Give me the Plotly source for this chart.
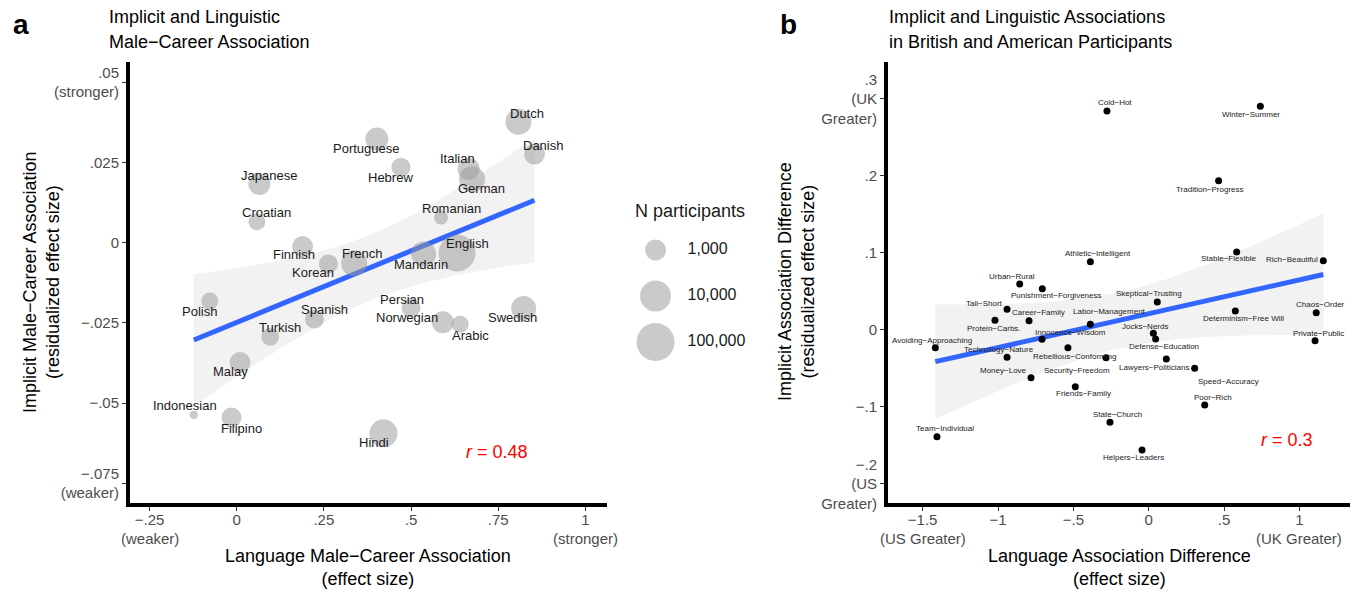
import numpy as np
import plotly.graph_objects as go

# ---------------- Panel a data ----------------
languages = ["Dutch", "Danish", "Portuguese", "Hebrew", "Italian", "German", "Japanese",
             "Croatian", "Romanian", "English", "Mandarin", "Finnish", "Korean", "French",
             "Polish", "Spanish", "Turkish", "Persian", "Norwegian", "Arabic", "Swedish",
             "Malay", "Indonesian", "Filipino", "Hindi"]
lang_x = [0.808, 0.854, 0.402, 0.471, 0.665, 0.675, 0.065, 0.058, 0.586, 0.632, 0.536,
          0.189, 0.263, 0.337, -0.077, 0.223, 0.096, 0.500, 0.591, 0.641, 0.823, 0.0095,
          -0.123, -0.015, 0.421]
lang_y = [0.0377, 0.0276, 0.0323, 0.0235, 0.0230, 0.0198, 0.0183, 0.0065, 0.0078, -0.0032,
          -0.0035, -0.0012, -0.0066, -0.0064, -0.0182, -0.0238, -0.0293, -0.0203, -0.0248,
          -0.0254, -0.0205, -0.0373, -0.0536, -0.0545, -0.0594]
lang_n = [2750, 1000, 1455, 731, 1202, 2750, 1202, 555, 400, 70000, 2200, 1000, 731, 2750,
          555, 731, 632, 731, 1202, 555, 2200, 1000, 290, 853, 4470]

legend_n = [1000, 10000, 100000]
legend_labels = ["1,000", "10,000", "100,000"]

a_xtick_vals = [-0.25, 0, 0.25, 0.5, 0.75, 1]
a_xtick_text = ["\u2212.25", "0", ".25", ".5", ".75", "1"]
a_xtick_sub = ["(weaker)", "", "", "", "", "(stronger)"]
a_ytick_vals = [0.05, 0.025, 0, -0.025, -0.05, -0.075]
a_ytick_text = [".05<br>(stronger)", ".025", "0", "\u2212.025", "\u2212.05", "\u2212.075<br>(weaker)"]

# ---------------- Panel b data ----------------
pairs = ["Cold\u2212Hot", "Winter\u2212Summer", "Tradition\u2212Progress", "Athletic\u2212Intelligent",
         "Stable\u2212Flexible", "Rich\u2212Beautiful", "Urban\u2212Rural", "Punishment\u2212Forgiveness",
         "Tall\u2212Short", "Skeptical\u2212Trusting", "Career\u2212Family", "Protein\u2212Carbs.",
         "Labor\u2212Management", "Chaos\u2212Order", "Determinism\u2212Free Will", "Jocks\u2212Nerds",
         "Defense\u2212Education", "Private\u2212Public", "Avoiding\u2212Approaching", "Innocence\u2212Wisdom",
         "Rebellious\u2212Conforming", "Technology\u2212Nature", "Security\u2212Freedom",
         "Lawyers\u2212Politicians", "Speed\u2212Accuracy", "Money\u2212Love", "Friends\u2212Family",
         "Poor\u2212Rich", "State\u2212Church", "Team\u2212Individual", "Helpers\u2212Leaders"]
pair_x = [-0.277, 0.741, 0.464, -0.387, 0.584, 1.159, -0.856, -0.706, -0.940, 0.057, -0.794,
          -1.020, -0.387, 1.112, 0.575, 0.031, 0.046, 1.104, -1.416, -0.708, -0.536, -0.940,
          -0.283, 0.117, 0.305, -0.781, -0.487, 0.372, -0.257, -1.405, -0.044]
pair_y = [0.2844, 0.2905, 0.1939, 0.0887, 0.1013, 0.0900, 0.0597, 0.0536, 0.0269, 0.0364,
          0.0121, 0.0126, 0.0074, 0.0225, 0.0247, -0.0043, -0.0117, -0.0139, -0.0230, -0.0121,
          -0.0230, -0.0355, -0.0360, -0.0377, -0.0497, -0.0619, -0.0736, -0.0974, -0.1199,
          -0.1386, -0.1558]

b_xtick_vals = [-1.5, -1, -0.5, 0, 0.5, 1]
b_xtick_text = ["\u22121.5", "\u22121", "\u2212.5", "0", ".5", "1"]
b_xtick_sub = ["(US Greater)", "", "", "", "", "(UK Greater)"]
b_ytick_vals = [0.3, 0.2, 0.1, 0, -0.1, -0.2]
b_ytick_text = [".3<br>(UK<br>Greater)", ".2", ".1", "0", "\u2212.1", "\u2212.2<br>(US<br>Greater)"]

# ---------------- styling / label placement (screen px offsets) ----------------
a_label_off = [(9, -8), (9, -9), (-10, 9), (-10, 10), (-11, -10), (9, 9), (10, -8), (10, -9),
               (10, -9), (10, -9), (-3, 11), (-9, 8), (-15, 9), (8, -10), (-10, 10), (10, -10),
               (10, -9), (-9, -8), (-36, -5), (10, 11), (-11, 9), (-10, 9), (-9, -9), (10, 11),
               (-9, 9)]
b_label_off = [(8, -8), (-9, 8), (-9, 9), (8, -8), (-8, 7), (-31, -1), (-8, -8), (14, 7),
               (-23, -6), (-8, -8), (9, -8), (-1, 8), (19, -13), (4, -8), (8, 8), (-8, -7),
               (8, 8), (3, -7), (-3, -7), (28, -7), (7, 9), (-8, -8), (-29, 13), (-12, 8),
               (34, 13), (-28, -7), (8, 7), (8, -7), (8, -8), (8, -8), (-9, 8)]

FONT = "Liberation Sans, Arial, Helvetica, sans-serif"
W, H = 1359, 589
TICK_COLOR = "#4d4d4d"


def size_px(n):
    lg = np.log10(np.asarray(n, dtype=float))
    return 6.2 + 19.9 * np.sqrt(np.clip(lg - 2.45, 0, None))


def lm_band(x, y, tq, npts=80):
    x = np.asarray(x, float)
    y = np.asarray(y, float)
    n = len(x)
    xb = x.mean()
    sxx = ((x - xb) ** 2).sum()
    b = ((x - xb) * (y - y.mean())).sum() / sxx
    a = y.mean() - b * xb
    s = np.sqrt(((y - (a + b * x)) ** 2).sum() / (n - 2))
    xs = np.linspace(x.min(), x.max(), npts)
    yh = a + b * xs
    se = s * np.sqrt(1.0 / n + (xs - xb) ** 2 / sxx)
    return xs, yh, yh - tq * se, yh + tq * se


fig = go.Figure()

# ---- panel a ----
xs, yh, lo, hi = lm_band(lang_x, lang_y, 2.0687)
fig.add_trace(go.Scatter(x=np.concatenate([xs, xs[::-1]]), y=np.concatenate([lo, hi[::-1]]),
                         fill="toself", fillcolor="#f2f2f2", line=dict(width=0), mode="lines",
                         hoverinfo="skip", showlegend=False, xaxis="x", yaxis="y"))
fig.add_trace(go.Scatter(x=xs, y=yh, mode="lines", line=dict(color="#3366FF", width=5),
                         showlegend=False, xaxis="x", yaxis="y"))
fig.add_trace(go.Scatter(x=lang_x, y=lang_y, mode="markers", text=languages,
                         marker=dict(size=size_px(lang_n), color="rgb(150,150,150)", opacity=0.5,
                                     line=dict(width=0)),
                         showlegend=False, xaxis="x", yaxis="y"))

# ---- panel b ----
xs2, yh2, lo2, hi2 = lm_band(pair_x, pair_y, 2.0452)
fig.add_trace(go.Scatter(x=np.concatenate([xs2, xs2[::-1]]), y=np.concatenate([lo2, hi2[::-1]]),
                         fill="toself", fillcolor="#f2f2f2", line=dict(width=0), mode="lines",
                         hoverinfo="skip", showlegend=False, xaxis="x2", yaxis="y2"))
fig.add_trace(go.Scatter(x=xs2, y=yh2, mode="lines", line=dict(color="#3366FF", width=5),
                         showlegend=False, xaxis="x2", yaxis="y2"))
fig.add_trace(go.Scatter(x=pair_x, y=pair_y, mode="markers", text=pairs,
                         marker=dict(size=7, color="black", line=dict(width=0)),
                         showlegend=False, xaxis="x2", yaxis="y2"))

# ---- size legend (own little axes) ----
fig.add_trace(go.Scatter(x=[0, 0, 0], y=legend_labels, mode="markers",
                         marker=dict(size=size_px(legend_n), color="rgb(150,150,150)", opacity=0.5,
                                     line=dict(width=0)),
                         showlegend=False, xaxis="x3", yaxis="y3", hoverinfo="skip"))
fig.add_trace(go.Scatter(x=[0.9, 0.9, 0.9], y=legend_labels, mode="text", text=legend_labels,
                         textposition="middle right",
                         textfont=dict(family=FONT, size=16, color="#1a1a1a"),
                         showlegend=False, xaxis="x3", yaxis="y3", hoverinfo="skip"))

ann = []
for name, x, y, (dx, dy) in zip(languages, lang_x, lang_y, a_label_off):
    ann.append(dict(x=x, y=y, xref="x", yref="y", text=name, showarrow=False,
                    xshift=dx, yshift=-dy, font=dict(family=FONT, size=13, color="#1a1a1a")))
for name, x, y, (dx, dy) in zip(pairs, pair_x, pair_y, b_label_off):
    ann.append(dict(x=x, y=y, xref="x2", yref="y2", text=name, showarrow=False,
                    xshift=dx, yshift=-dy, font=dict(family=FONT, size=8, color="#222222")))


def px_x(p):
    return p / W


def px_y(p):
    return 1 - p / H


# second line of the end x tick labels
for v, t in zip(a_xtick_vals, a_xtick_sub):
    if t:
        ann.append(dict(x=v, y=px_y(538), xref="x", yref="paper", text=t, showarrow=False,
                        xanchor="center", yanchor="middle",
                        font=dict(family=FONT, size=15, color=TICK_COLOR)))
for v, t in zip(b_xtick_vals, b_xtick_sub):
    if t:
        ann.append(dict(x=v, y=px_y(538), xref="x2", yref="paper", text=t, showarrow=False,
                        xanchor="center", yanchor="middle",
                        font=dict(family=FONT, size=15, color=TICK_COLOR)))

# titles and panel letters
ann += [
    dict(x=px_x(21), y=px_y(25), xref="paper", yref="paper", text="<b>a</b>", showarrow=False,
         xanchor="center", yanchor="middle", font=dict(family=FONT, size=28, color="black")),
    dict(x=px_x(788), y=px_y(25), xref="paper", yref="paper", text="<b>b</b>", showarrow=False,
         xanchor="center", yanchor="middle", font=dict(family=FONT, size=28, color="black")),
    dict(x=px_x(107), y=px_y(17), xref="paper", yref="paper", text="Implicit and Linguistic",
         showarrow=False, xanchor="left", yanchor="middle", font=dict(family=FONT, size=18, color="black")),
    dict(x=px_x(107), y=px_y(42), xref="paper", yref="paper", text="Male\u2212Career Association",
         showarrow=False, xanchor="left", yanchor="middle", font=dict(family=FONT, size=18, color="black")),
    dict(x=px_x(887), y=px_y(17), xref="paper", yref="paper", text="Implicit and Linguistic Associations",
         showarrow=False, xanchor="left", yanchor="middle", font=dict(family=FONT, size=18, color="black")),
    dict(x=px_x(887), y=px_y(42), xref="paper", yref="paper", text="in British and American Participants",
         showarrow=False, xanchor="left", yanchor="middle", font=dict(family=FONT, size=18, color="black")),
    # axis titles
    dict(x=px_x(368), y=px_y(567), xref="paper", yref="paper",
         text="Language Male\u2212Career Association<br>(effect size)", showarrow=False,
         xanchor="center", yanchor="middle", font=dict(family=FONT, size=18, color="black")),
    dict(x=px_x(1119), y=px_y(567), xref="paper", yref="paper",
         text="Language Association Difference<br>(effect size)", showarrow=False,
         xanchor="center", yanchor="middle", font=dict(family=FONT, size=18, color="black")),
    dict(x=px_x(41), y=px_y(282), xref="paper", yref="paper", textangle=-90,
         text="Implicit Male\u2212Career Association<br>(residualized effect size)", showarrow=False,
         xanchor="center", yanchor="middle", font=dict(family=FONT, size=18, color="black")),
    dict(x=px_x(796), y=px_y(282), xref="paper", yref="paper", textangle=-90,
         text="Implicit Association Difference<br>(residualized effect size)", showarrow=False,
         xanchor="center", yanchor="middle", font=dict(family=FONT, size=18, color="black")),
    # r values
    dict(x=0.747, y=-0.0652, xref="x", yref="y", text="<i>r</i> = 0.48", showarrow=False,
         font=dict(family=FONT, size=18, color="#ff0000")),
    dict(x=0.918, y=-0.143, xref="x2", yref="y2", text="<i>r</i> = 0.3", showarrow=False,
         font=dict(family=FONT, size=18, color="#ff0000")),
    # legend title
    dict(x=px_x(690), y=px_y(211), xref="paper", yref="paper", text="N participants",
         showarrow=False, xanchor="center", yanchor="middle",
         font=dict(family=FONT, size=18, color="#1a1a1a")),
]

axis_common = dict(showgrid=False, zeroline=False, showline=True, linecolor="black", linewidth=4,
                   ticks="outside", ticklen=4, tickwidth=1, tickcolor="#333333",
                   tickfont=dict(family=FONT, size=15, color=TICK_COLOR), automargin=False,
                   fixedrange=True)

fig.update_layout(
    width=W, height=H, autosize=False,
    margin=dict(l=0, r=0, t=0, b=0),
    paper_bgcolor="white", plot_bgcolor="white",
    font=dict(family=FONT),
    showlegend=False,
    xaxis=dict(domain=[px_x(130), px_x(607)], range=[-0.306, 1.062], tickmode="array",
               tickvals=a_xtick_vals, ticktext=a_xtick_text, anchor="y",
               ticklabelstandoff=-4, **axis_common),
    yaxis=dict(domain=[px_y(503), px_y(62)], range=[-0.0811, 0.0563], tickmode="array",
               tickvals=a_ytick_vals, ticktext=a_ytick_text, anchor="x", **axis_common),
    xaxis2=dict(domain=[px_x(888), px_x(1350)], range=[-1.730, 1.336], tickmode="array",
                tickvals=b_xtick_vals, ticktext=b_xtick_text, anchor="y2",
                ticklabelstandoff=-4, **axis_common),
    yaxis2=dict(domain=[px_y(503), px_y(62)], range=[-0.2247, 0.348], tickmode="array",
                tickvals=b_ytick_vals, ticktext=b_ytick_text, anchor="x2", **axis_common),
    xaxis3=dict(domain=[px_x(620), px_x(780)], range=[-1, 3.5], visible=False, anchor="y3",
                fixedrange=True),
    yaxis3=dict(domain=[px_y(365), px_y(227)], range=[-0.5, 2.5], visible=False, anchor="x3",
                type="category", categoryorder="array", categoryarray=legend_labels[::-1],
                fixedrange=True),
    annotations=ann,
)

fig.write_html("out.html", config={"displayModeBar": False, "staticPlot": True},
               post_script="document.body.style.margin='0';")
